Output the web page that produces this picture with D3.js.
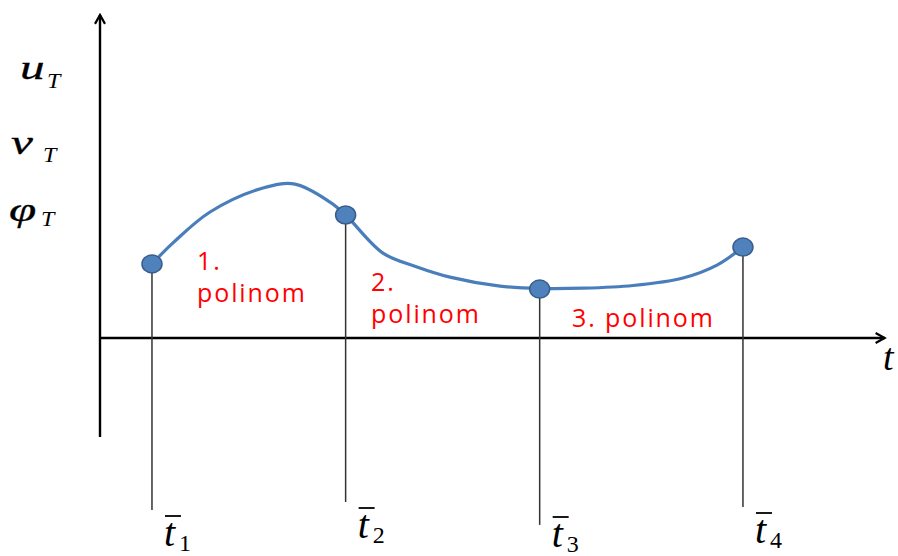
<!DOCTYPE html>
<html>
<head>
<meta charset="utf-8">
<script src="https://cdn.jsdelivr.net/npm/d3@7"></script>
<style>
  body { margin: 0; background: #fff; }
  svg { display: block; }
</style>
</head>
<body>
<div id="chart"></div>
<script>
// Knots (t, value) where the polynomials meet
const knotT = [0.675, 3.19, 5.71, 8.35];
const knotV = [2.47, 4.1, 1.63, 3.03];
const knotNames = ["1", "2", "3", "4"];

// Points
const curveT = [0.675, 0.948, 1.429, 2.117, 2.532, 2.987, 3.19, 3.675, 4.117, 4.545, 5.195, 5.71, 6.273, 6.922, 7.571, 8.013, 8.35];
const curveV = [2.47, 3.17, 4.2, 5.0, 5.13, 4.53, 4.1, 2.83, 2.37, 2.03, 1.73, 1.65, 1.66, 1.75, 2.0, 2.43, 3.03];

// Stem bottoms below the t axis
const stemV = [-5.73, -5.47, -6.23, -5.63];

const polyLabels = [["1.", "polinom"], ["2.", "polinom"], ["3. polinom"]];
const yNames = [["u", "T"], ["v", "T"], ["φ", "T"]];

const width = 898, height = 556;
const mathFont = "'Liberation Serif', 'Times New Roman', serif";

const x = d3.scaleLinear().domain([0, 10]).range([100, 870]);
const y = d3.scaleLinear().domain([0, 10]).range([338, 38]);

const svg = d3.select("#chart").append("svg")
    .attr("width", width)
    .attr("height", height);

// Arrow heads
const defs = svg.append("defs");
defs.append("marker")
    .attr("id", "arrow")
    .attr("viewBox", "0 0 12 12")
    .attr("refX", 10)
    .attr("refY", 6)
    .attr("markerWidth", 12)
    .attr("markerHeight", 12)
    .attr("markerUnits", "userSpaceOnUse")
    .attr("orient", "auto")
    .append("path")
    .attr("d", "M1,1 L10,6 L1,11")
    .attr("fill", "none")
    .attr("stroke", "#000")
    .attr("stroke-width", 2.2);

// Axes
svg.append("line")
    .attr("x1", x(0)).attr("x2", x(0))
    .attr("y1", y(-3.3)).attr("y2", y(10.77))
    .attr("stroke", "#000")
    .attr("stroke-width", 2.4)
    .attr("marker-end", "url(#arrow)");

svg.append("line")
    .attr("x1", x(0)).attr("x2", x(10.19))
    .attr("y1", y(0)).attr("y2", y(0))
    .attr("stroke", "#000")
    .attr("stroke-width", 2.4)
    .attr("marker-end", "url(#arrow)");

// Stems from knots down
svg.selectAll("line.stem")
    .data(knotT)
    .join("line")
    .attr("class", "stem")
    .attr("x1", d => x(d)).attr("x2", d => x(d))
    .attr("y1", (d, i) => y(knotV[i]))
    .attr("y2", (d, i) => y(stemV[i]))
    .attr("stroke", "#333")
    .attr("stroke-width", 1.5);

// Curve
const line = d3.line()
    .x((d, i) => x(curveT[i]))
    .y(d => y(d))
    .curve(d3.curveCatmullRom.alpha(0.5));

svg.append("path")
    .attr("d", line(curveV))
    .attr("fill", "none")
    .attr("stroke", "#4a7ebb")
    .attr("stroke-width", 3.2);

// Knot circles
svg.selectAll("ellipse.knot")
    .data(knotT)
    .join("ellipse")
    .attr("class", "knot")
    .attr("cx", d => x(d))
    .attr("cy", (d, i) => y(knotV[i]))
    .attr("rx", 10)
    .attr("ry", 9)
    .attr("fill", "#4f81bd")
    .attr("stroke", "#385d8a")
    .attr("stroke-width", 1.5);

// Polynomial labels
const polyPos = [[1.26, 270], [3.52, 291], [6.13, 327]];
polyLabels.forEach((lines, i) => {
    const t = svg.append("text")
        .attr("x", x(polyPos[i][0]))
        .attr("y", polyPos[i][1])
        .style("font-family", "'Open Sans', sans-serif")
        .style("font-size", "25px")
        .style("letter-spacing", "1.9px")
        .attr("fill", "#ff0000");
    lines.forEach((s, j) => {
        t.append("tspan")
            .attr("x", x(polyPos[i][0]))
            .attr("dy", j === 0 ? 0 : 32)
            .text(s);
    });
});

// Y labels (italic math, wide like Cambria Math)
const yLabelPos = [[20, 79, 47, 88], [11, 154, 43, 162], [9, 221, 41, 226]];
yNames.forEach((n, i) => {
    const p = yLabelPos[i];
    svg.append("text")
        .attr("transform", `translate(${p[0]},${p[1]}) scale(1.45,1)`)
        .style("font-family", mathFont)
        .style("font-style", "italic")
        .style("font-size", "34px")
        .style("stroke", "#000")
        .style("stroke-width", 0.3)
        .text(n[0]);
    svg.append("text")
        .attr("transform", `translate(${p[2]},${p[3]}) scale(1.2,1)`)
        .style("font-family", mathFont)
        .style("font-style", "italic")
        .style("font-size", "20px")
        .text(n[1]);
});

// t axis label
svg.append("text")
    .attr("x", 883).attr("y", 370)
    .style("font-family", mathFont)
    .style("font-style", "italic")
    .style("font-size", "38px")
    .text("t");

// Knot labels  t̄1 .. t̄4
const labelBase = [546, 538, 547, 543];
knotT.forEach((d, i) => {
    const lx = x(d) + 12;
    const g = svg.append("g");
    g.append("text")
        .attr("x", lx).attr("y", labelBase[i])
        .style("font-family", mathFont)
        .style("font-style", "italic")
        .style("font-size", "40px")
        .text("t");
    g.append("text")
        .attr("x", lx + 15).attr("y", labelBase[i] + 5)
        .style("font-family", mathFont)
        .style("font-size", "24px")
        .text(knotNames[i]);
    g.append("line")
        .attr("x1", lx + 1).attr("x2", lx + 17)
        .attr("y1", labelBase[i] - 30).attr("y2", labelBase[i] - 30)
        .attr("stroke", "#000")
        .attr("stroke-width", 1.8);
});
</script>
</body>
</html>
